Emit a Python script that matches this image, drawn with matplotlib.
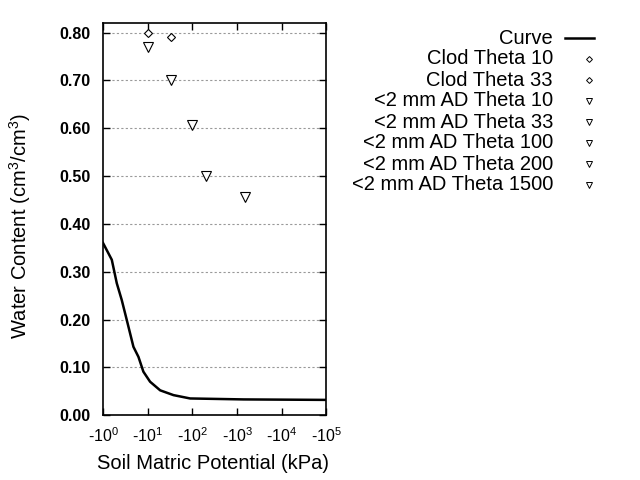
import matplotlib
matplotlib.use('Agg')
import matplotlib.pyplot as plt
import numpy as np

plt.rcParams['font.family'] = ['Liberation Sans', 'DejaVu Sans']
plt.rcParams['mathtext.fontset'] = 'custom'
plt.rcParams['mathtext.rm'] = 'Liberation Sans'
plt.rcParams['mathtext.it'] = 'Liberation Sans:italic'
plt.rcParams['mathtext.bf'] = 'Liberation Sans:bold'

# water retention curve (|matric potential| in kPa, water content)
curve_h = [1.0, 1.57, 2.03, 2.62, 3.4, 4.79, 6.2, 8.0, 11.3, 19, 37.7, 89, 1400, 100000]
curve_theta = [0.360, 0.325, 0.276, 0.241, 0.199, 0.143, 0.122, 0.091, 0.070,
               0.052, 0.042, 0.035, 0.033, 0.032]

clod_labels = ['Clod Theta 10', 'Clod Theta 33']
clod_h = [10, 33]
clod_theta = [0.80, 0.79]

ad_labels = ['<2 mm AD Theta 10', '<2 mm AD Theta 33', '<2 mm AD Theta 100',
             '<2 mm AD Theta 200', '<2 mm AD Theta 1500']
ad_h = [10, 33, 100, 200, 1500]
ad_theta = [0.77, 0.70, 0.607, 0.50, 0.457]

yticks = [0.0, 0.1, 0.2, 0.3, 0.4, 0.5, 0.6, 0.7, 0.8]
xticks = [1, 10, 100, 1000, 10000, 100000]

fig = plt.figure(figsize=(6.4, 4.8), dpi=100)
ax = fig.add_axes([0.161, 0.135, 0.349, 0.817])

ax.plot(curve_h, curve_theta, color='black', lw=1.8)
for h, t in zip(clod_h, clod_theta):
    ax.plot(h, t, ls='none', marker='D', ms=4, mfc='white', mec='black', mew=0.8)
for h, t in zip(ad_h, ad_theta):
    ax.plot(h, t, ls='none', marker='v', ms=6.5, mfc='white', mec='black', mew=0.8)

ax.set_xscale('log')
ax.set_xlim(1, 100000)
ax.set_ylim(0, 0.82)
ax.set_xticks(xticks)
ax.set_xticklabels(['-$10^{%d}$' % int(np.log10(x)) for x in xticks], fontsize=11.5)
ax.minorticks_off()
ax.set_yticks(yticks)
ax.set_yticklabels(['%.2f' % y for y in yticks], fontsize=11.5, fontweight='bold')
ax.tick_params(direction='in', top=True, right=True, length=5, width=1)
ax.tick_params(axis='x', pad=8)
ax.tick_params(axis='y', pad=9)
ax.grid(axis='y', color='#999999', ls=(0, (2, 2)), lw=0.8)
for s in ax.spines.values():
    s.set_linewidth(1.2)

fig.text(0.333, 0.035, 'Soil Matric Potential (kPa)', fontsize=14.5, ha='center', va='center')
fig.text(0.031, 0.529, 'Water Content (cm$^3$/cm$^3$)', fontsize=14.5, rotation=90,
         ha='center', va='center')

# legend, drawn by hand: labels right aligned, symbols to the right
lax = fig.add_axes([0, 0, 1, 1])
lax.set_xlim(0, 640)
lax.set_ylim(480, 0)
lax.axis('off')
leg_labels = ['Curve'] + clod_labels + ad_labels
leg_kind = ['line'] + ['D'] * len(clod_labels) + ['v'] * len(ad_labels)
for i, (lab, kind) in enumerate(zip(leg_labels, leg_kind)):
    y = 38 + 21 * i
    lax.text(553, y, lab, fontsize=14.5, ha='right', va='center')
    if kind == 'line':
        lax.plot([565, 594], [y, y], color='black', lw=1.8)
    elif kind == 'D':
        lax.plot(589, y, marker='D', ms=3, mfc='white', mec='black', mew=0.7)
    else:
        lax.plot(589, y, marker='v', ms=4.5, mfc='white', mec='black', mew=0.7)

fig.savefig('out.png', dpi=100)
